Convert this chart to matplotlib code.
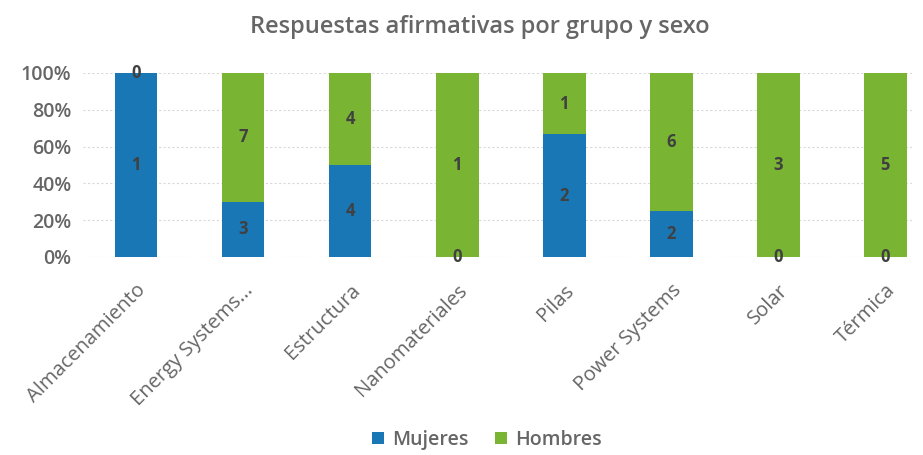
import matplotlib
matplotlib.use("Agg")
import matplotlib.pyplot as plt
import numpy as np

categories = ["Almacenamiento", "Energy Systems...", "Estructura", "Nanomateriales",
              "Pilas", "Power Systems", "Solar", "Térmica"]
mujeres = [1, 3, 4, 0, 2, 2, 0, 0]
hombres = [0, 7, 4, 1, 1, 6, 3, 5]
yticks = [0, 0.2, 0.4, 0.6, 0.8, 1.0]
ytick_labels = ["0%", "20%", "40%", "60%", "80%", "100%"]

plt.rcParams['font.family'] = ['Open Sans', 'DejaVu Sans']

blue = "#1a77b6"
green = "#79b533"
gray = "#666666"

fig = plt.figure(figsize=(9.23, 4.55), dpi=100)
W, H = 923, 455
left_px, right_px, top_px, bot_px = 82.5, 912, 73, 257
ax = fig.add_axes([left_px / W, (H - bot_px) / H, (right_px - left_px) / W, (bot_px - top_px) / H])

m = np.array(mujeres, float)
h = np.array(hombres, float)
tot = m + h
mf = m / tot
hf = h / tot
x = np.arange(len(categories))
bw = 0.4
ax.bar(x, mf, bw, color=blue, label="Mujeres", zorder=3)
ax.bar(x, hf, bw, bottom=mf, color=green, label="Hombres", zorder=3)

for i in range(len(x)):
    ax.text(x[i], mf[i] / 2, str(mujeres[i]), ha="center", va="center",
            fontsize=12, fontweight="bold", color="#404040", zorder=4)
    ax.text(x[i], mf[i] + hf[i] / 2, str(hombres[i]), ha="center", va="center",
            fontsize=12, fontweight="bold", color="#404040", zorder=4)

ax.set_xlim(-0.5, 7.25)
ax.set_ylim(0, 1)
ax.set_yticks(yticks)
ax.set_yticklabels(ytick_labels, fontsize=14, color=gray, fontweight="semibold")
ax.set_xticks(x)
ax.set_xticklabels(categories, rotation=45, ha="right", rotation_mode="anchor",
                   fontsize=14.5, color=gray)
ax.tick_params(length=0)
ax.tick_params(axis="y", pad=8)
ax.tick_params(axis="x", pad=17)
ax.yaxis.grid(True, color="#d9d9d9", linestyle=(0, (2, 2)), linewidth=0.8, zorder=0)
for s in ax.spines.values():
    s.set_visible(False)

fig.text(480 / W, 1 - 27 / H, "Respuestas afirmativas por grupo y sexo",
         ha="center", va="center", fontsize=17, color=gray, fontweight="semibold")

leg = fig.legend(loc="center", bbox_to_anchor=(487 / W, 1 - 440 / H), ncol=2,
                 frameon=False, prop={"size": 14, "weight": "semibold"},
                 handlelength=0.6, handleheight=0.6,
                 columnspacing=1.4, handletextpad=0.4)
for t in leg.get_texts():
    t.set_color(gray)

fig.savefig("out.png", dpi=100)
